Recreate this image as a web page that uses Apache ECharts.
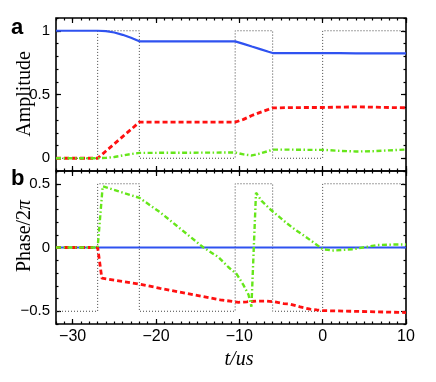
<!DOCTYPE html>
<html>
<head>
<meta charset="utf-8">
<script src="https://cdn.jsdelivr.net/npm/echarts@6/dist/echarts.min.js"></script>
<style>html,body{margin:0;padding:0;background:#fff;}#c{width:436px;height:382px;}</style>
</head>
<body>
<div id="c"></div>
<script>
// ---- tick labels ----
const tickX = [-30, -20, -10, 0, 10];
const tickAmp = [0, 0.5, 1];
const tickPhase = [-0.5, 0, 0.5];

// ---- control pulses (dotted) ----
const pulseT = [-32, -27, -27, -22, -22, -10.5, -10.5, -6, -6, 0, 0, 10];
const pulseAmp = [0, 0, 1, 1, 0, 0, 1, 1, 0, 0, 1, 1];
const pulsePhase = [-0.5, -0.5, 0.5, 0.5, -0.5, -0.5, 0.5, 0.5, -0.5, -0.5, 0.5, 0.5];

// ---- panel a: amplitudes ----
const ampT = [-32, -27, -26, -25, -24, -23, -22, -10.5, -9.5, -8.5, -7.5, -6.5, -6, -4, -2, 0, 2, 4, 6, 8, 10];
const ampBlue = [1, 1, 0.997, 0.986, 0.968, 0.945, 0.917, 0.917, 0.897, 0.876, 0.856, 0.835, 0.825, 0.825, 0.825, 0.825, 0.824, 0.823, 0.823, 0.823, 0.823];
const ampRed = [0, 0, 0.057, 0.113, 0.17, 0.226, 0.283, 0.283, 0.305, 0.335, 0.36, 0.383, 0.395, 0.397, 0.398, 0.398, 0.401, 0.403, 0.401, 0.398, 0.396];
const ampGreen = [0, 0, 0.003, 0.01, 0.022, 0.033, 0.042, 0.045, 0.03, 0.022, 0.037, 0.057, 0.068, 0.068, 0.066, 0.066, 0.058, 0.053, 0.055, 0.062, 0.068];

// ---- panel b: phases / 2pi ----
const phaseBlueT = [-32, 10];
const phaseBlue = [0, 0];
const phaseRedT = [-32, -27, -26.5, -22, -19.5, -12.3, -10.1, -9.1, -7.9, -6.7, -5.9, -4.7, -3.9, -2.7, -1.5, -0.7, 0, 3.3, 10];
const phaseRed = [0, 0, -0.24, -0.287, -0.32, -0.41, -0.43, -0.426, -0.42, -0.42, -0.425, -0.44, -0.444, -0.466, -0.484, -0.49, -0.495, -0.5, -0.51];
const phaseGreenT = [-32, -27, -26.4, -22, -19.5, -14.3, -12.5, -11.3, -10.3, -9.5, -8.9, -8.55, -8.0, -7.3, -6.3, -4.3, -3.3, -2.1, -1.0, 0, 1.3, 3.7, 5.1, 6.5, 8.9, 10];
const phaseGreen = [0, 0, 0.48, 0.39, 0.276, 0, -0.076, -0.155, -0.21, -0.295, -0.37, -0.465, 0.43, 0.363, 0.30, 0.19, 0.14, 0.087, 0.035, -0.013, -0.024, -0.013, 0.003, 0.019, 0.024, 0.024];

const zip = (t, v) => t.map((x, i) => [x, v[i]]);
const range = (a, b, s) => { const r = []; for (let k = Math.round(a / s); k * s <= b + 1e-9; k++) r.push(+(k * s).toFixed(4)); return r; };

const X_MIN = -32, X_MAX = 10;
const minorX = range(-32, 10, 1);
const minorAmp = range(-0.1, 1.1, 0.1);
const minorPhase = range(-0.6, 0.6, 0.1);

const minus = v => String(v).replace('-', '\u2212');

function xAx(grid, pos, vals, len, labels) {
  return {
    type: 'value', gridIndex: grid, position: pos, min: X_MIN, max: X_MAX,
    axisLine: { show: false, onZero: false },
    splitLine: { show: false },
    axisTick: { show: true, inside: true, length: len, customValues: vals, lineStyle: { color: '#000', width: 1.2 } },
    axisLabel: labels ? { show: true, customValues: vals, margin: 5, formatter: minus, fontFamily: 'Liberation Sans', fontSize: 16, color: '#000' } : { show: false }
  };
}
function yAx(grid, pos, min, max, vals, len, labels) {
  return {
    type: 'value', gridIndex: grid, position: pos, min: min, max: max,
    axisLine: { show: false, onZero: false },
    splitLine: { show: false },
    axisTick: { show: true, inside: true, length: len, customValues: vals, lineStyle: { color: '#000', width: 1.2 } },
    axisLabel: labels ? { show: true, customValues: vals, margin: 6, formatter: minus, fontFamily: 'Liberation Sans', fontSize: 15, color: '#000' } : { show: false }
  };
}

const xAxis = [
  xAx(0, 'bottom', tickX, 5, false),
  xAx(0, 'top', tickX, 5, false),
  xAx(0, 'bottom', minorX, 2.5, false),
  xAx(0, 'top', minorX, 2.5, false),
  xAx(1, 'bottom', tickX, 5, true),
  xAx(1, 'top', tickX, 5, false),
  xAx(1, 'bottom', minorX, 2.5, false),
  xAx(1, 'top', minorX, 2.5, false)
];
const yAxis = [
  yAx(0, 'left', -0.1, 1.1, tickAmp, 5, true),
  yAx(0, 'right', -0.1, 1.1, tickAmp, 5, false),
  yAx(0, 'left', -0.1, 1.1, minorAmp, 2.5, false),
  yAx(0, 'right', -0.1, 1.1, minorAmp, 2.5, false),
  yAx(1, 'left', -0.6, 0.6, tickPhase, 5, true),
  yAx(1, 'right', -0.6, 0.6, tickPhase, 5, false),
  yAx(1, 'left', -0.6, 0.6, minorPhase, 2.5, false),
  yAx(1, 'right', -0.6, 0.6, minorPhase, 2.5, false)
];

const BLUE = '#2f52f0', RED = '#ff1010', GREEN = '#66e61a';
function line(data, xi, yi, color, width, type, z) {
  return {
    type: 'line', data: data, xAxisIndex: xi, yAxisIndex: yi, showSymbol: false, symbol: 'none',
    lineStyle: { color: color, width: width, type: type }, z: z, animation: false, silent: true
  };
}

const series = [
  line(zip(pulseT, pulseAmp), 0, 0, '#444', 1, [1, 2], 1),
  line(zip(ampT, ampBlue), 0, 0, BLUE, 2.2, 'solid', 2),
  line(zip(ampT, ampRed), 0, 0, RED, 2.8, [5, 3], 3),
  line(zip(ampT, ampGreen), 0, 0, GREEN, 2.4, [5, 2.5, 1.5, 2.5], 4),
  line(zip(pulseT, pulsePhase), 4, 4, '#444', 1, [1, 2], 1),
  line(zip(phaseBlueT, phaseBlue), 4, 4, BLUE, 2.2, 'solid', 2),
  line(zip(phaseRedT, phaseRed), 4, 4, RED, 2.8, [5, 3], 3),
  line(zip(phaseGreenT, phaseGreen), 4, 4, GREEN, 2.4, [5, 2.5, 1.5, 2.5], 4)
];

const chart = echarts.init(document.getElementById('c'), null, { renderer: 'canvas' });
chart.setOption({
  animation: false,
  backgroundColor: '#fff',
  grid: [
    { left: 56, right: 30, top: 18, height: 153, show: true, borderColor: '#000', borderWidth: 1.6, backgroundColor: 'transparent' },
    { left: 56, right: 30, top: 171, height: 153, show: true, borderColor: '#000', borderWidth: 1.6, backgroundColor: 'transparent' }
  ],
  xAxis: xAxis,
  yAxis: yAxis,
  series: series,
  graphic: [
    { type: 'text', left: 11, top: 17, style: { text: 'a', font: 'bold 22px "Liberation Sans"', fill: '#000' } },
    { type: 'text', left: 11, top: 168, style: { text: 'b', font: 'bold 22px "Liberation Sans"', fill: '#000' } },
    { type: 'text', x: 25, y: 94, rotation: Math.PI / 2,
      style: { text: 'Amplitude', font: '20px "Liberation Serif"', fill: '#000', align: 'center', verticalAlign: 'middle' } },
    { type: 'text', x: 25, y: 236, rotation: Math.PI / 2,
      style: { text: '{a|Phase/2}{b|\u03c0}', align: 'center', verticalAlign: 'middle',
        rich: { a: { font: '20px "Liberation Serif"', fill: '#000' }, b: { font: 'italic 20px "Liberation Serif"', fill: '#000' } } } },
    { type: 'text', x: 239, y: 360,
      style: { text: 't/us', font: 'italic 20px "Liberation Serif"', fill: '#000', align: 'center', verticalAlign: 'middle' } }
  ]
});
</script>
</body>
</html>
